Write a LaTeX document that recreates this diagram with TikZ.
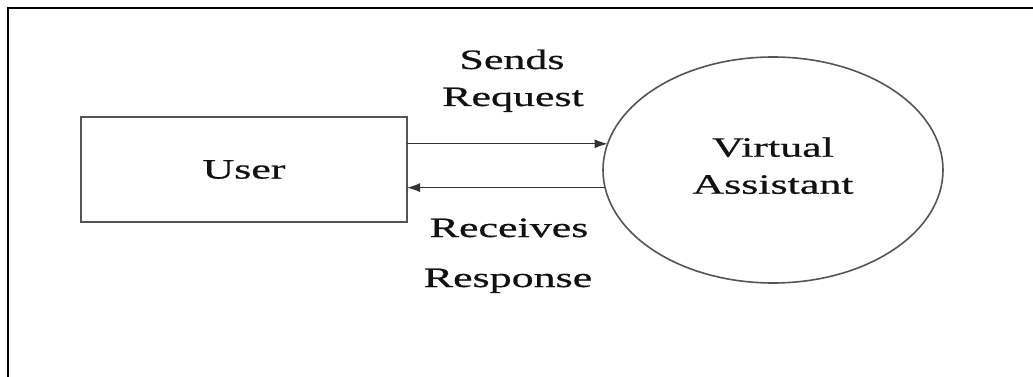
\documentclass[tikz,border=0pt]{standalone}
\usepackage{fontspec}
\setmainfont{Liberation Serif}[FakeStretch=1.57,FakeBold=0.6]
\usetikzlibrary{shapes.geometric,arrows.meta}
\definecolor{strokegray}{HTML}{555555}
\definecolor{arrowgray}{HTML}{333333}
\definecolor{textgray}{HTML}{111111}
\begin{document}
\begin{tikzpicture}[x=1pt,y=-1pt,
  lbl/.style={font=\fontsize{28}{37}\selectfont, text=textgray, inner sep=0pt},
  entity/.style={draw=strokegray, line width=1.6pt, inner sep=0pt, outer sep=0pt, font=\fontsize{28}{37}\selectfont, text=textgray},
  flow/.style={draw=arrowgray, line width=1.3pt, -{Latex[length=13pt,width=9pt]}}
]
\useasboundingbox (0,0) rectangle (1033,377);
\fill[white] (0,0) rectangle (1033,377);
% frame
\draw[line width=2.4pt, black] (8,377) -- (8,8) -- (1033,8);
% entities
\node[entity, rectangle, minimum width=326pt, minimum height=105pt] (user) at (244,169.5) {User};
\node[entity, ellipse, minimum width=340pt, minimum height=226pt, align=center, text depth=9pt] (va) at (773,170) {Virtual\\Assistant};
% flows
\coordinate (inA) at (va.171.7);
\coordinate (outA) at (va.186.5);
\draw[flow] (user.east |- inA) -- (inA);
\draw[flow] (outA) -- (user.east |- outA);
% labels
\node[lbl, anchor=base] (s1) at (512,69) {Sends};
\node[lbl, anchor=base] (s2) at (513,106) {Request};
\node[lbl, anchor=base] (r1) at (509,237) {Receives};
\node[lbl, anchor=base] (r2) at (508,287) {Response};
\end{tikzpicture}
\end{document}
